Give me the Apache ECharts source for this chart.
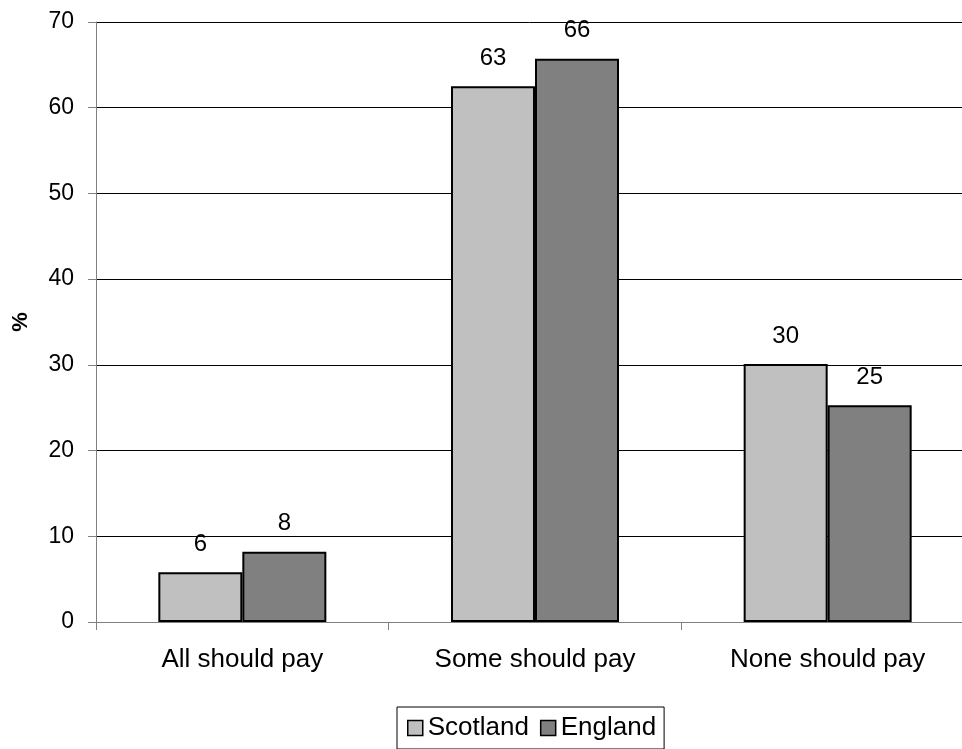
<!DOCTYPE html>
<html>
<head>
<meta charset="utf-8">
<script src="https://cdn.jsdelivr.net/npm/echarts@6/dist/echarts.min.js"></script>
<style>
  html, body { margin: 0; padding: 0; background: #fff; }
  #chart { width: 962px; height: 749px; }
</style>
</head>
<body>
<div id="chart"></div>
<script>
// Opinion on who should pay, by country (%)
const categories = ['All should pay', 'Some should pay', 'None should pay'];
const scotland = [5.8, 62.5, 30.1];
const england = [8.2, 65.7, 25.3];
const yTicks = [0, 10, 20, 30, 40, 50, 60, 70];

const FONT = '"Liberation Sans", Arial, sans-serif';

const chart = echarts.init(document.getElementById('chart'), null, { renderer: 'canvas' });

const barLabel = {
  show: true,
  position: 'top',
  distance: 16,
  color: '#000',
  fontFamily: FONT,
  fontSize: 24,
  formatter: p => String(Math.round(p.value))
};

chart.setOption({
  animation: false,
  backgroundColor: '#fff',
  grid: {
    left: 96, top: 22, width: 878, bottom: 127,
    containLabel: false,
    outerBoundsMode: 'none'
  },
  legend: {
    data: ['Scotland', 'England'],
    left: 397,
    top: 707,
    orient: 'horizontal',
    icon: 'rect',
    itemWidth: 15,
    itemHeight: 15,
    itemGap: 11,
    padding: [8, 8, 8, 10],
    borderColor: '#000',
    borderWidth: 1,
    itemStyle: { borderColor: '#000', borderWidth: 1.5 },
    textStyle: { fontFamily: FONT, fontSize: 26, color: '#000' }
  },
  xAxis: {
    type: 'category',
    data: categories,
    axisLine: { show: true, lineStyle: { color: '#808080', width: 1 } },
    axisTick: { show: true, length: 8, inside: false, alignWithLabel: false, lineStyle: { color: '#808080' } },
    axisLabel: { color: '#000', fontFamily: FONT, fontSize: 26, margin: 25 },
    splitLine: { show: false }
  },
  yAxis: {
    type: 'value',
    min: yTicks[0],
    max: yTicks[yTicks.length - 1],
    interval: 10,
    name: '%',
    nameLocation: 'middle',
    nameRotate: 90,
    nameGap: 64,
    nameTextStyle: { fontFamily: FONT, fontSize: 22, fontWeight: 'bold', color: '#000' },
    axisLine: { show: true, lineStyle: { color: '#808080', width: 1 } },
    axisTick: { show: true, length: 8, lineStyle: { color: '#808080' } },
    axisLabel: { color: '#000', fontFamily: FONT, fontSize: 23, margin: 22 },
    splitLine: { show: true, lineStyle: { color: '#000', width: 1 } }
  },
  series: [
    {
      name: 'Scotland',
      type: 'bar',
      data: scotland,
      barWidth: 84,
      barGap: '0%',
      itemStyle: { color: '#C0C0C0', borderColor: '#000', borderWidth: 2 },
      label: barLabel
    },
    {
      name: 'England',
      type: 'bar',
      data: england,
      barWidth: 84,
      barGap: '0%',
      itemStyle: { color: '#808080', borderColor: '#000', borderWidth: 2 },
      label: barLabel
    }
  ]
});
</script>
</body>
</html>
